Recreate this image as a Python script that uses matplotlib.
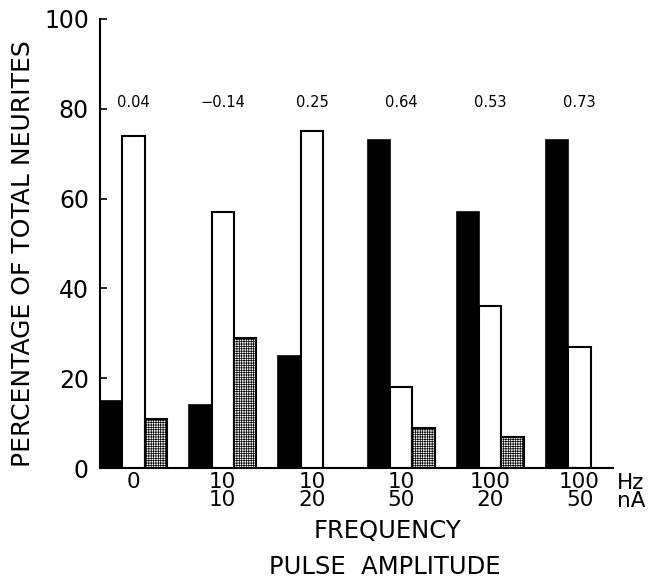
import matplotlib
matplotlib.use("Agg")
import matplotlib.pyplot as plt
import numpy as np

plt.rcParams['font.family'] = ['DejaVu Sans']
plt.rcParams['hatch.linewidth'] = 0.5

freq = ["0", "10", "10", "10", "100", "100"]
amp = ["", "10", "20", "50", "20", "50"]
black_vals = [15, 14, 25, 73, 57, 73]
white_vals = [74, 57, 75, 18, 36, 27]
stipple_vals = [11, 29, 0, 9, 7, 0]
corr = ["0.04", "\u22120.14", "0.25", "0.64", "0.53", "0.73"]

fig = plt.figure(figsize=(6.58, 5.81), dpi=100)
ax = fig.add_axes([100/658, 1-468/581, 513/658, 449/581])

x = np.arange(len(freq))
w = 0.25
ax.bar(x - w, black_vals, w, color='black', edgecolor='black', linewidth=1.2)
ax.bar(x, white_vals, w, color='white', edgecolor='black', linewidth=1.5)
ax.bar(x + w, stipple_vals, w, color='white', edgecolor='black', linewidth=1.5,
       hatch='+++++++')

ax.set_xlim(-0.375, 5.375)
ax.set_ylim(0, 100)
ax.spines['top'].set_visible(False)
ax.spines['right'].set_visible(False)
ax.spines['left'].set_linewidth(1.5)
ax.spines['bottom'].set_linewidth(1.5)
ax.set_yticks([0, 20, 40, 60, 80, 100])
ax.tick_params(axis='y', direction='in', length=5, width=1.2, labelsize=17, pad=8)
ax.set_xticks([])

for i in range(len(freq)):
    ax.text(x[i], 81.5, corr[i], ha='center', va='center', fontsize=10.5)
    lab = freq[i] if amp[i] == "" else freq[i] + "\n" + amp[i]
    ax.text(x[i], -0.9, lab, ha='center', va='top', fontsize=15.5, linespacing=0.9,
            transform=ax.transData, clip_on=False)

fig.text(617/658, 1-473/581, "Hz\nnA", ha='left', va='top', fontsize=15.5,
         linespacing=0.9)
fig.text(388/658, 1-531/581, "FREQUENCY", ha='center', va='center', fontsize=17.5)
fig.text(385/658, 1-567/581, "PULSE  AMPLITUDE", ha='center', va='center', fontsize=17.5)
fig.text(23/658, 1-254/581, "PERCENTAGE OF TOTAL NEURITES", ha='center', va='center',
         rotation=90, fontsize=18)

fig.savefig("out.png", dpi=100)
